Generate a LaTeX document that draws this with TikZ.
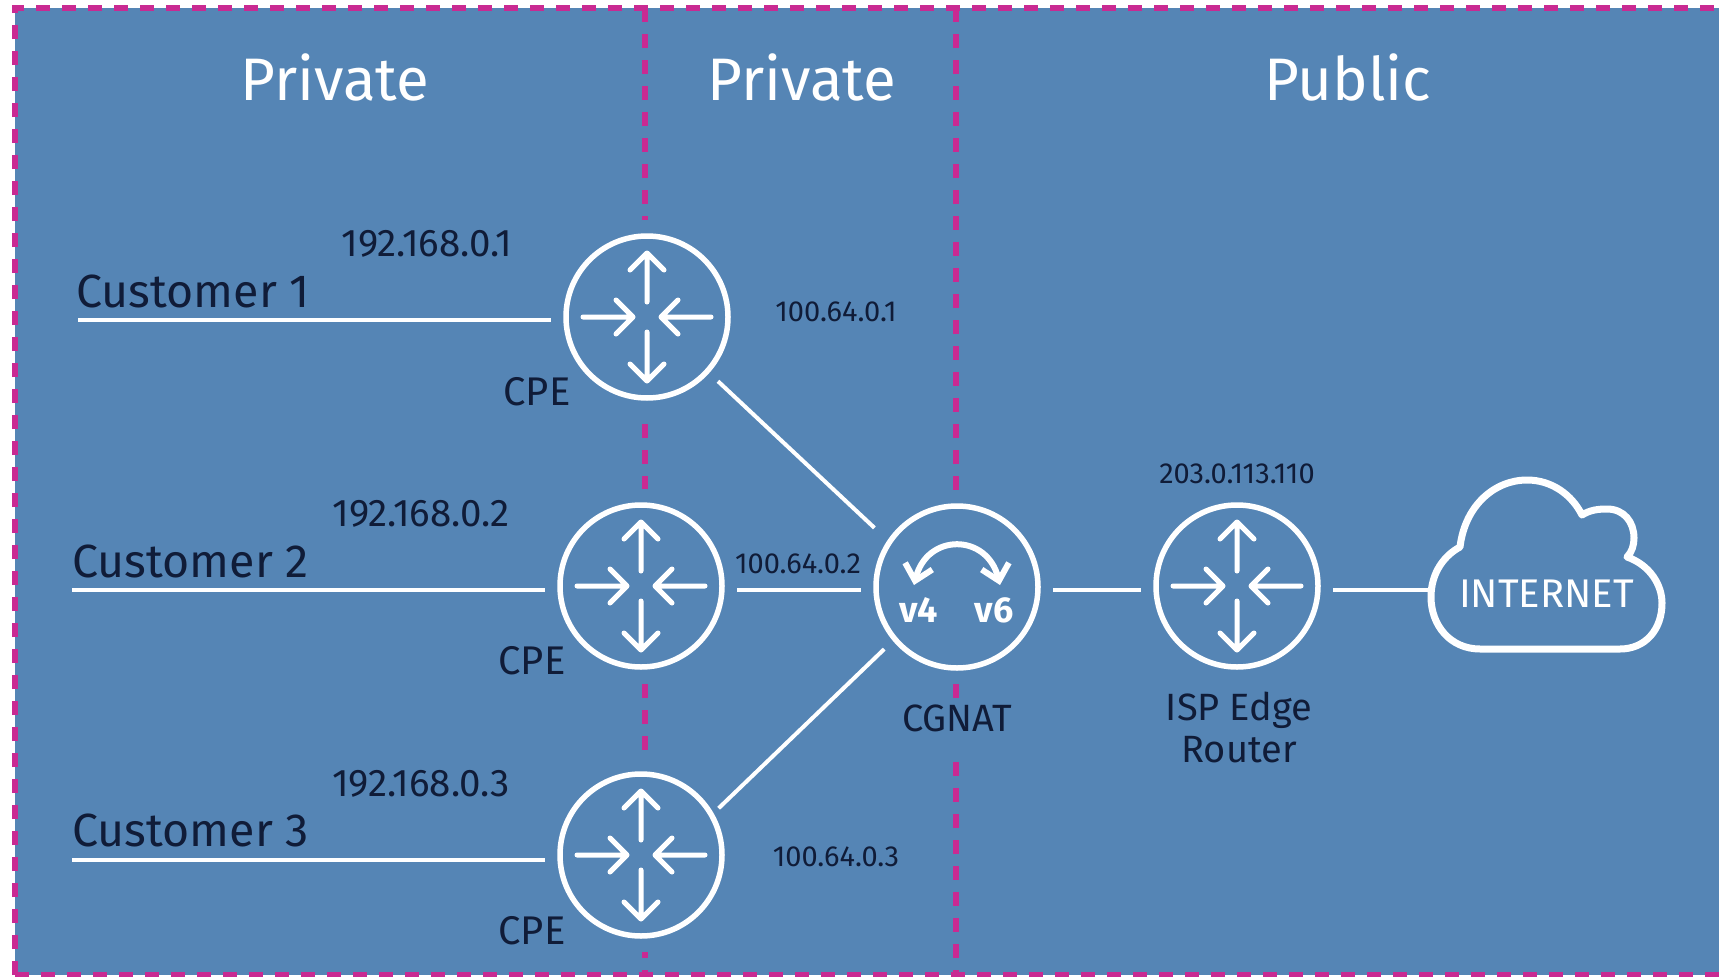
\documentclass[tikz,border=0pt]{standalone}
\usepackage{fontspec}
\usetikzlibrary{arrows.meta}
\setmainfont{Fira Sans}
\definecolor{bgblue}{HTML}{5585B5}
\definecolor{pinkline}{HTML}{C92A92}
\definecolor{darktext}{HTML}{101C38}
\tikzset{
    zone/.style={pinkline,line width=5.5pt,dash pattern=on 14pt off 12pt},
    wire/.style={white,line width=4pt,shorten >=10pt,shorten <=10pt},
    level/.style={white,line width=4pt},
    router/.style={circle,draw=white,line width=5.5pt,fill=bgblue,minimum size=162pt,inner sep=0pt,
        preaction={draw=bgblue,line width=32pt}},
    zonename/.style={white,font=\fontsize{60}{64}\selectfont},
    ipbig/.style={darktext,font=\fontsize{38.5}{42}\selectfont},
    ipsmall/.style={darktext,font=\fontsize{29}{32}\selectfont},
    custname/.style={darktext,anchor=base west,font=\fontsize{46.5}{50}\selectfont},
    devname/.style={darktext,font=\fontsize{38}{42}\selectfont,align=center},
    routericon/.pic={
        \foreach \a in {90,270} {
            \draw[rotate=\a,white,line width=5pt,line cap=round,line join=round]
                (15,0) -- (64,0) (47,-17) -- (64,0) -- (47,17);
        }
        \foreach \a in {0,180} {
            \draw[rotate=\a,white,line width=5pt,line cap=round,line join=round]
                (64,0) -- (14,0) (31,-17) -- (14,0) -- (31,17);
        }
    }
}
\begin{document}
\begin{tikzpicture}[x=1pt,y=-1pt]
    \useasboundingbox (0,0) rectangle (1719,977);
    \fill[bgblue] (15,8) rectangle (1719,975);
    \draw[zone] (15,975) -- (15,8) -- (1719,8);
    \draw[zone] (15,975) -- (1719,975);
    \draw[zone] (645,8) -- (645,975);
    \draw[zone] (956,8) -- (956,975);

    \node[zonename] (z1) at (335,77) {Private};
    \node[zonename] (z2) at (802,77) {Private};
    \node[zonename] (z3) at (1348,77) {Public};

    \node[router] (r1) at (647,317) {};
    \node[router] (r2) at (641,586) {};
    \node[router] (r3) at (641,855) {};
    \node[router] (cg) at (957,587) {};
    \node[router] (isp) at (1237,586) {};
    \pic at (r1) {routericon};
    \pic at (r2) {routericon};
    \pic at (r3) {routericon};
    \pic at (isp) {routericon};

    \coordinate (c1) at (78,320);
    \coordinate (c2) at (72,590);
    \coordinate (c3) at (72,860);
    \draw[level,shorten >=96pt] (c1) -- (r1.center |- c1);
    \draw[level,shorten >=96pt] (c2) -- (r2.center |- c2);
    \draw[level,shorten >=96pt] (c3) -- (r3.center |- c3);
    \draw[wire,shorten <=12pt,shorten >=18pt] (r1.-42) -- (cg.146);
    \draw[wire,shorten <=7pt,shorten >=12pt] (r3.30) -- (cg.220);
    \draw[level,shorten <=96pt,shorten >=96pt] (r2.center |- c2) -- (cg.center |- c2);
    \draw[level,shorten <=96pt,shorten >=96pt] (cg.center |- c2) -- (isp.center |- c2);

    \node[custname] (n1) at (73,307) {Customer 1};
    \node[custname] (n2) at (69,577) {Customer 2};
    \node[custname] (n3) at (69,846) {Customer 3};
    \node[ipbig] (a1) at (427,244) {192.168.0.1};
    \node[ipbig] (a2) at (421,514) {192.168.0.2};
    \node[ipbig] (a3) at (421,784) {192.168.0.3};
    \node[devname,font=\fontsize{40}{42}\selectfont] (p1) at (537,392) {CPE};
    \node[devname,font=\fontsize{40}{42}\selectfont] (p2) at (532,661) {CPE};
    \node[devname,font=\fontsize{40}{42}\selectfont] (p3) at (532,931) {CPE};
    \node[ipsmall] (b1) at (836,312) {100.64.0.1};
    \node[ipsmall] (b2) at (798,564) {100.64.0.2};
    \node[ipsmall] (b3) at (836,857) {100.64.0.3};
    \node[devname,fill=bgblue,anchor=base,inner sep=0pt,text height=33pt,text depth=30pt] (d1) at (957,731) {CGNAT};
    \node[ipsmall] (d2) at (1237,474) {203.0.113.110};
    \node[devname] (d3) at (1239,727) {ISP Edge\\Router};

    \draw[white,line width=6pt,line join=round,{Straight Barb[length=15pt,width=28pt]}-{Straight Barb[length=15pt,width=28pt]}]
        (914,585) .. controls (927,533) and (987,533) .. (1000,585);
    \node[white,font=\fontsize{36}{38}\selectfont\bfseries] (v4) at (919,610) {v4};
    \node[white,font=\fontsize{36}{38}\selectfont\bfseries] (v6) at (994,610) {v6};

    \node[white,minimum width=237pt,minimum height=170pt,inner sep=0pt,font=\fontsize{40}{44}\selectfont] (cloud) at (1546.5,594) {INTERNET};
    \draw[white,line width=7pt,line join=round] (1480,649)
        .. controls (1450,649) and (1431,625) .. (1431,597)
        .. controls (1431,572) and (1445,555) .. (1460,547)
        .. controls (1465,505) and (1495,480) .. (1527,480)
        .. controls (1552,480) and (1572,495) .. (1582,515)
        .. controls (1590,510) and (1598,509) .. (1607,509)
        .. controls (1624,509) and (1634,522) .. (1634,538)
        .. controls (1634,545) and (1632,552) .. (1627,557)
        .. controls (1650,565) and (1662,585) .. (1662,603)
        .. controls (1662,630) and (1645,649) .. (1620,649)
        -- cycle;
    \draw[level,shorten <=96pt] (isp.center |- c2) -- (cloud.west |- c2);
\end{tikzpicture}
\end{document}
